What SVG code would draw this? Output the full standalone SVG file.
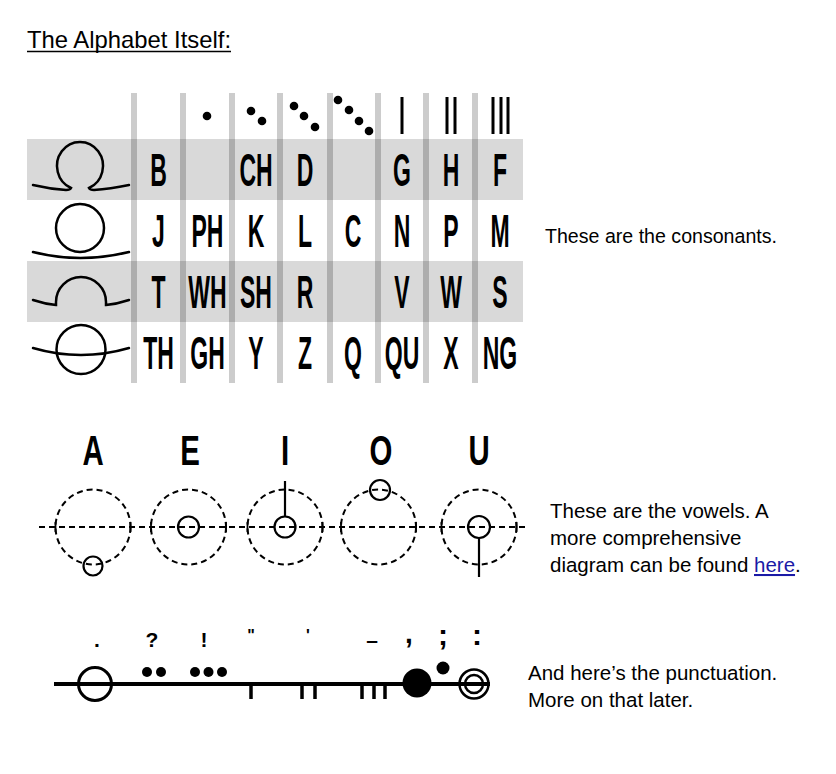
<svg xmlns="http://www.w3.org/2000/svg" width="836" height="774" viewBox="0 0 836 774">
<style>
.ttl{font-family:"Liberation Sans",Arial,sans-serif;font-size:24px;fill:#000}
.txt{font-family:"Liberation Sans",Arial,sans-serif;font-size:20.5px;fill:#000}
.lnk{fill:#1a1aa6;text-decoration:underline}
.cl{font-family:"Liberation Sans",Arial,sans-serif;font-weight:bold;font-size:46px;fill:#000;text-anchor:middle}
.vl{font-family:"Liberation Sans",Arial,sans-serif;font-weight:bold;font-size:42px;fill:#000;text-anchor:middle}
.pl{font-family:"Liberation Sans",Arial,sans-serif;font-weight:bold;font-size:21px;fill:#000;text-anchor:middle}
.band{fill:#d9d9d9}
.bar{fill:#000;opacity:0.2}
.sym{fill:none;stroke:#000;stroke-width:2.5;stroke-linecap:round}
.dash{fill:none;stroke:#000;stroke-width:2;stroke-dasharray:6 4}
.solid{fill:none;stroke:#000;stroke-width:2.2}
.pline{fill:none;stroke:#000;stroke-width:4}
.tick{stroke:#000;stroke-width:3.5}
.mk{stroke:#000;stroke-width:3}
</style>

<g id="title">
<text class="ttl" x="27" y="48" textLength="204" lengthAdjust="spacingAndGlyphs">The Alphabet Itself:</text>
<line x1="27" y1="51.5" x2="231" y2="51.5" stroke="#000" stroke-width="1.5"/>
</g>

<g id="consonant-table">
<rect class="band" x="27" y="139" width="496" height="61"/>
<rect class="band" x="27" y="261" width="496" height="61"/>
<g id="bars">
<rect class="bar" x="131" y="93" width="6" height="290"/>
<rect class="bar" x="180" y="93" width="6" height="290"/>
<rect class="bar" x="229" y="93" width="6" height="290"/>
<rect class="bar" x="277" y="93" width="6" height="290"/>
<rect class="bar" x="327" y="93" width="6" height="290"/>
<rect class="bar" x="375" y="93" width="6" height="290"/>
<rect class="bar" x="423" y="93" width="6" height="290"/>
<rect class="bar" x="472" y="93" width="6" height="290"/>
</g>
<g id="column-markers">
<circle cx="207" cy="116" r="4.3"/>
<circle cx="251" cy="111" r="4.3"/>
<circle cx="262" cy="121" r="4.3"/>
<circle cx="294" cy="106" r="4.3"/>
<circle cx="304" cy="116" r="4.3"/>
<circle cx="315" cy="127" r="4.3"/>
<circle cx="338" cy="100" r="4.3"/>
<circle cx="349" cy="110" r="4.3"/>
<circle cx="359" cy="121" r="4.3"/>
<circle cx="369" cy="131" r="4.3"/>
<line class="mk" x1="402" y1="97" x2="402" y2="134"/>
<line class="mk" x1="447" y1="97" x2="447" y2="134"/>
<line class="mk" x1="455" y1="97" x2="455" y2="134"/>
<line class="mk" x1="493" y1="97" x2="493" y2="134"/>
<line class="mk" x1="501" y1="97" x2="501" y2="134"/>
<line class="mk" x1="508" y1="97" x2="508" y2="134"/>
</g>
<g id="row-symbols">
<path class="sym" d="M33,185 Q50,189 66,190 Q70,190 71,188 A23,24 0 1 1 89,188 Q90,190 94,190 Q110,189 129,185"/>
<circle class="sym" cx="80" cy="228" r="24"/>
<path class="sym" d="M33,252 Q80,264 129,252"/>
<path class="sym" d="M33,300 Q45,304 56,305 L56,302 A25,25 0 0 1 106,302 L106,305 Q117,304 129,300"/>
<circle class="sym" cx="81" cy="349.5" r="24.5"/>
<path class="sym" d="M33,348 Q81,362 129,348"/>
</g>
<g id="letters">
<text class="cl" transform="translate(158.5,186) scale(0.5,1)">B</text>
<text class="cl" transform="translate(256,186) scale(0.5,1)">CH</text>
<text class="cl" transform="translate(305,186) scale(0.5,1)">D</text>
<text class="cl" transform="translate(402,186) scale(0.5,1)">G</text>
<text class="cl" transform="translate(451,186) scale(0.5,1)">H</text>
<text class="cl" transform="translate(500,186) scale(0.5,1)">F</text>

<text class="cl" transform="translate(158.5,247) scale(0.5,1)">J</text>
<text class="cl" transform="translate(207.5,247) scale(0.5,1)">PH</text>
<text class="cl" transform="translate(256,247) scale(0.5,1)">K</text>
<text class="cl" transform="translate(305,247) scale(0.5,1)">L</text>
<text class="cl" transform="translate(353,247) scale(0.5,1)">C</text>
<text class="cl" transform="translate(402,247) scale(0.5,1)">N</text>
<text class="cl" transform="translate(451,247) scale(0.5,1)">P</text>
<text class="cl" transform="translate(500,247) scale(0.5,1)">M</text>

<text class="cl" transform="translate(158.5,308) scale(0.5,1)">T</text>
<text class="cl" transform="translate(207.5,308) scale(0.5,1)">WH</text>
<text class="cl" transform="translate(256,308) scale(0.5,1)">SH</text>
<text class="cl" transform="translate(305,308) scale(0.5,1)">R</text>
<text class="cl" transform="translate(402,308) scale(0.5,1)">V</text>
<text class="cl" transform="translate(451,308) scale(0.5,1)">W</text>
<text class="cl" transform="translate(500,308) scale(0.5,1)">S</text>

<text class="cl" transform="translate(158.5,369) scale(0.5,1)">TH</text>
<text class="cl" transform="translate(207.5,369) scale(0.5,1)">GH</text>
<text class="cl" transform="translate(256,369) scale(0.5,1)">Y</text>
<text class="cl" transform="translate(305,369) scale(0.5,1)">Z</text>
<text class="cl" transform="translate(353,369) scale(0.5,1)">Q</text>
<text class="cl" transform="translate(402,369) scale(0.5,1)">QU</text>
<text class="cl" transform="translate(451,369) scale(0.5,1)">X</text>
<text class="cl" transform="translate(500,369) scale(0.5,1)">NG</text>
</g>
</g>

<g id="consonant-note">
<text class="txt" x="545" y="243" textLength="232" lengthAdjust="spacingAndGlyphs">These are the consonants.</text>
</g>

<g id="vowels">
<text class="vl" transform="translate(93,465) scale(0.7,1)">A</text>
<text class="vl" transform="translate(190,465) scale(0.7,1)">E</text>
<text class="vl" transform="translate(285,465) scale(0.7,1)">I</text>
<text class="vl" transform="translate(381,465) scale(0.7,1)">O</text>
<text class="vl" transform="translate(479,465) scale(0.7,1)">U</text>
<line class="dash" x1="39" y1="527" x2="528" y2="527"/>
<circle class="dash" cx="93" cy="527" r="37.5"/>
<circle class="dash" cx="188.5" cy="527" r="37.5"/>
<circle class="dash" cx="285" cy="527" r="37.5"/>
<circle class="dash" cx="378.5" cy="527" r="37.5"/>
<circle class="dash" cx="479" cy="527" r="37.5"/>
<g stroke="#000" stroke-width="1.8">
<line x1="55.5" y1="522" x2="55.5" y2="532"/>
<line x1="130.5" y1="522" x2="130.5" y2="532"/>
<line x1="151" y1="522" x2="151" y2="532"/>
<line x1="226" y1="522" x2="226" y2="532"/>
<line x1="247.5" y1="522" x2="247.5" y2="532"/>
<line x1="322.5" y1="522" x2="322.5" y2="532"/>
<line x1="341" y1="522" x2="341" y2="532"/>
<line x1="416" y1="522" x2="416" y2="532"/>
<line x1="441.5" y1="522" x2="441.5" y2="532"/>
<line x1="516.5" y1="522" x2="516.5" y2="532"/>
</g>
<circle class="solid" cx="93" cy="566" r="9.5"/>
<circle class="solid" cx="188.5" cy="527" r="10.5"/>
<circle class="solid" cx="285" cy="527" r="10.5"/>
<line class="solid" x1="285" y1="481" x2="285" y2="516.5"/>
<circle class="solid" cx="380" cy="490" r="10"/>
<circle class="solid" cx="479" cy="527" r="11"/>
<line class="solid" x1="479" y1="538" x2="479" y2="577"/>
</g>

<g id="vowel-note">
<text class="txt" x="550" y="518">These are the vowels. A</text>
<text class="txt" x="550" y="545">more comprehensive</text>
<text class="txt" x="550" y="572">diagram can be found <tspan class="lnk">here</tspan>.</text>
</g>

<g id="punctuation">
<text class="pl" x="97" y="647">.</text>
<text class="pl" x="152" y="647">?</text>
<text class="pl" x="204" y="647">!</text>
<text class="pl" x="251" y="641" style="font-size:16px">"</text>
<text class="pl" x="308" y="641" style="font-size:16px">'</text>
<text class="pl" x="372" y="647">–</text>
<text class="pl" x="409" y="643" style="font-size:28px">,</text>
<text class="pl" x="443" y="645" style="font-size:30px">;</text>
<text class="pl" x="477" y="645" style="font-size:30px">:</text>
<line class="pline" x1="54" y1="684" x2="490" y2="684"/>
<circle cx="95" cy="684" r="16.5" fill="none" stroke="#000" stroke-width="3"/>
<circle cx="147" cy="672" r="5"/>
<circle cx="161" cy="672" r="5"/>
<circle cx="195" cy="672" r="5"/>
<circle cx="208.5" cy="672" r="5"/>
<circle cx="222" cy="672" r="5"/>
<line class="tick" x1="251" y1="684" x2="251" y2="699"/>
<line class="tick" x1="302" y1="684" x2="302" y2="699"/>
<line class="tick" x1="315" y1="684" x2="315" y2="699"/>
<line class="tick" x1="362" y1="684" x2="362" y2="699"/>
<line class="tick" x1="374" y1="684" x2="374" y2="699"/>
<line class="tick" x1="385" y1="684" x2="385" y2="699"/>
<circle cx="417" cy="683" r="14.5"/>
<circle cx="443" cy="668" r="6.5"/>
<circle cx="474" cy="684" r="14.5" fill="none" stroke="#000" stroke-width="2.5"/>
<circle cx="474" cy="684" r="9" fill="none" stroke="#000" stroke-width="2.5"/>
</g>

<g id="punctuation-note">
<text class="txt" x="528" y="680">And here’s the punctuation.</text>
<text class="txt" x="528" y="707">More on that later.</text>
</g>
</svg>
